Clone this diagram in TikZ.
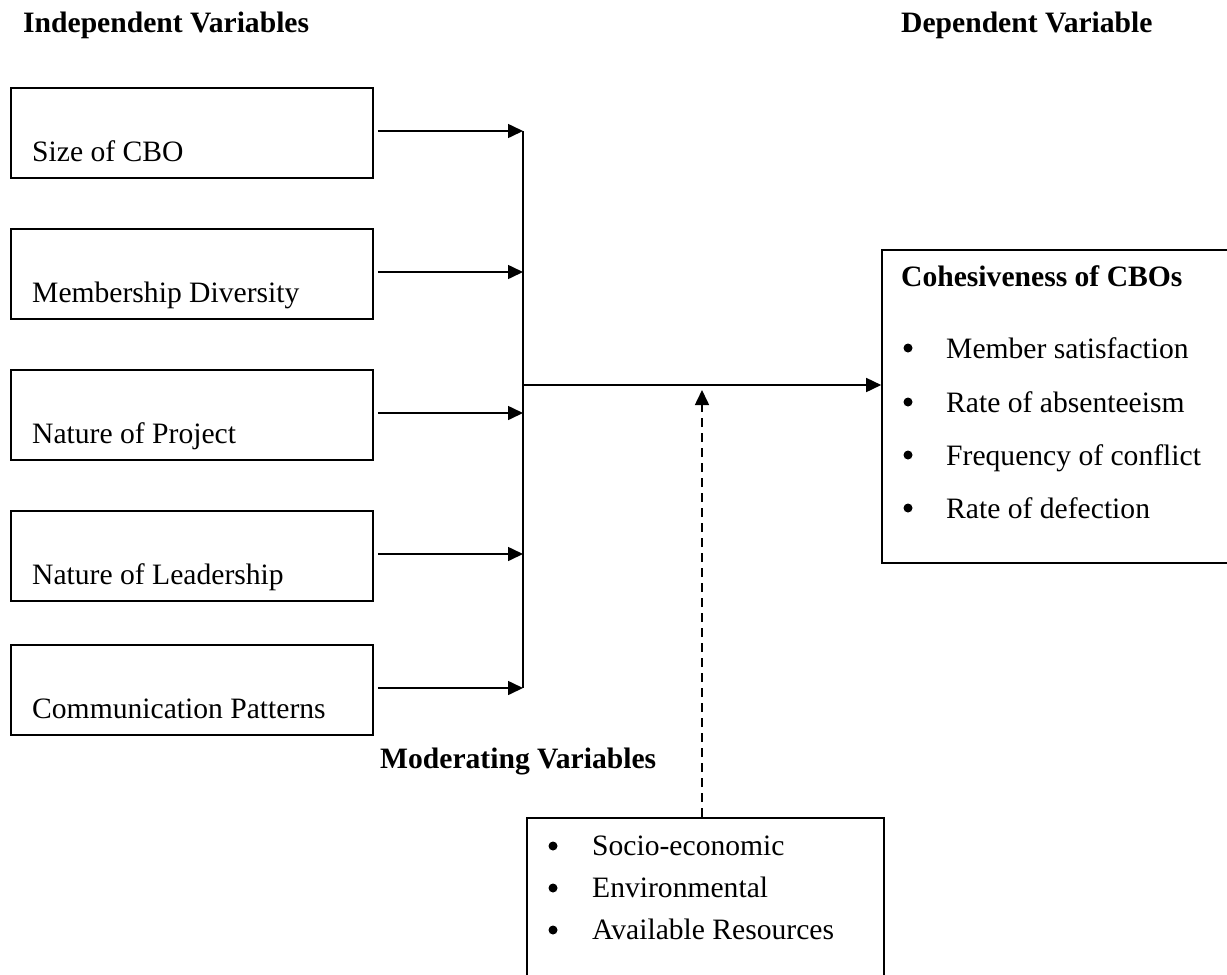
\documentclass[tikz,border=0pt]{standalone}
\usepackage{fontspec}
\setmainfont{Liberation Serif}
\usetikzlibrary{arrows.meta}
\begin{document}
\begin{tikzpicture}[x=1pt,y=-1pt,
  every node/.style={font=\fontsize{29.6}{35}\selectfont, inner sep=0pt},
  box/.style={draw, line width=1.6pt},
  lbl/.style={anchor=base west},
  hdr/.style={anchor=base west, font=\fontsize{29.6}{35}\selectfont\bfseries},
  conn/.style={line width=1.6pt},
  arr/.style={line width=1.6pt, -{Triangle[length=15pt,width=14pt]}},
  dsh/.style={line width=1.6pt, dash pattern=on 9pt off 6pt, -{Triangle[length=15pt,width=14pt]}},
  bul/.style={circle, fill=black, minimum size=9pt, inner sep=0pt}]
\useasboundingbox (0,0) rectangle (1227,975);
\clip (0,0) rectangle (1227,975);
% headers
\node[hdr] (hind) at (23,32) {Independent Variables};
\node[hdr] (hdep) at (901,32) {Dependent Variable};
\node[hdr] (hmod) at (380,768) {Moderating Variables};
% left boxes
\node[box, minimum width=362pt, minimum height=90pt] (b1) at (192,133) {};
\node[box, minimum width=362pt, minimum height=90pt] (b2) at (192,274) {};
\node[box, minimum width=362pt, minimum height=90pt] (b3) at (192,415) {};
\node[box, minimum width=362pt, minimum height=90pt] (b4) at (192,556) {};
\node[box, minimum width=362pt, minimum height=90pt] (b5) at (192,690) {};
\node[lbl] (t1) at (32,161) {Size of CBO};
\node[lbl] (t2) at (32,302) {Membership Diversity};
\node[lbl] (t3) at (32,443) {Nature of Project};
\node[lbl] (t4) at (32,584) {Nature of Leadership};
\node[lbl] (t5) at (32,718) {Communication Patterns};
% junction
\coordinate (j1) at (523,131);
\coordinate (j2) at (523,272);
\coordinate (j3) at (523,413);
\coordinate (j4) at (523,554);
\coordinate (j5) at (523,688);
\coordinate (jm) at (523,385);
\draw[arr] (b1.east |- j1) ++(4,0) -- (j1);
\draw[arr] (b2.east |- j2) ++(4,0) -- (j2);
\draw[arr] (b3.east |- j3) ++(4,0) -- (j3);
\draw[arr] (b4.east |- j4) ++(4,0) -- (j4);
\draw[arr] (b5.east |- j5) ++(4,0) -- (j5);
\draw[conn] (j1) -- (j5);
% dependent box
\node[box, minimum width=360pt, minimum height=313pt] (dep) at (1062,406.5) {};
\draw[arr] (jm) -- (jm -| dep.west);
\node[hdr] (dh) at (901,286) {Cohesiveness of CBOs};
\node[bul] (d1b) at (908,348) {};
\node[bul] (d2b) at (908,402) {};
\node[bul] (d3b) at (908,455) {};
\node[bul] (d4b) at (908,508) {};
\node[lbl] (d1) at (946,358) {Member satisfaction};
\node[lbl] (d2) at (946,412) {Rate of absenteeism};
\node[lbl] (d3) at (946,465) {Frequency of conflict};
\node[lbl] (d4) at (946,518) {Rate of defection};
% moderating box
\node[box, minimum width=357pt, minimum height=200pt] (mod) at (705.5,918) {};
\node[bul] (m1b) at (553,846) {};
\node[bul] (m2b) at (553,888) {};
\node[bul] (m3b) at (553,930) {};
\node[lbl] (m1) at (592,855) {Socio-economic};
\node[lbl] (m2) at (592,897) {Environmental};
\node[lbl] (m3) at (592,939) {Available Resources};
\coordinate (mt) at (702,390);
\draw[dsh] (mod.north -| mt) -- (mt);
\end{tikzpicture}
\end{document}
